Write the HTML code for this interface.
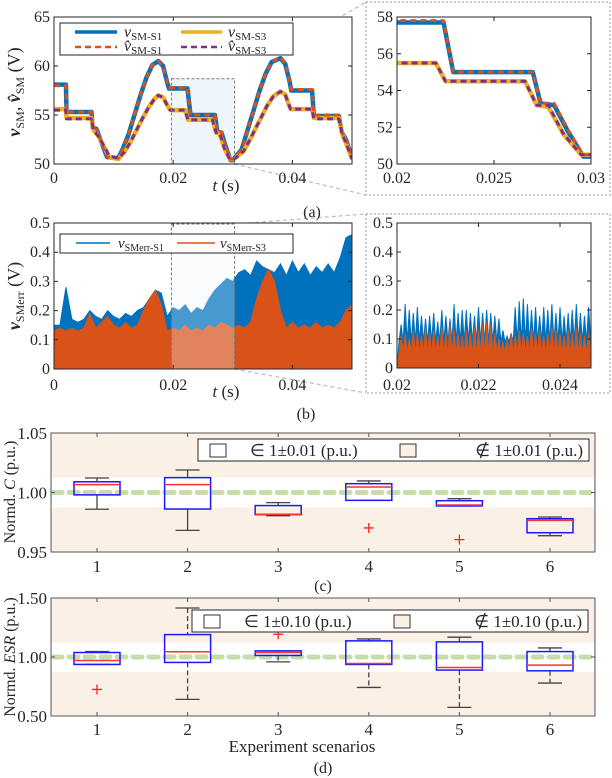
<!DOCTYPE html>
<html><head><meta charset="utf-8">
<style>
html,body{margin:0;padding:0;background:#fff;}
svg{display:block;font-family:"Liberation Serif",serif;}
svg text{fill:#262626;font-family:"Liberation Serif",serif;}
</style></head>
<body>
<svg id="fig" width="612" height="778" viewBox="0 0 612 778" xmlns="http://www.w3.org/2000/svg">
<defs>
<clipPath id="clipA"><rect x="54" y="17" width="298" height="147"/></clipPath>
<clipPath id="clipAR"><rect x="397" y="17" width="194" height="147"/></clipPath>
<clipPath id="clipB"><rect x="54" y="223" width="298" height="146"/></clipPath>
<clipPath id="clipBR"><rect x="397" y="223" width="194" height="145"/></clipPath>
</defs>
<g stroke="#bdbdbd" stroke-width="1.2" stroke-dasharray="4,3" fill="none">
<line x1="234" y1="79" x2="366" y2="2"/><line x1="234" y1="164" x2="366" y2="195"/>
<line x1="234" y1="224" x2="366" y2="214"/><line x1="234" y1="369" x2="366" y2="393"/>
</g>
<rect x="366" y="2" width="244" height="193" fill="#fff" stroke="#999" stroke-dasharray="2,2"/>
<rect x="366" y="214" width="244" height="179" fill="#fff" stroke="#999" stroke-dasharray="2,2"/>
<g id="layer"></g>
<text transform="translate(20,92) rotate(-90)" text-anchor="middle" font-size="18"><tspan font-style="italic" font-weight="bold">v</tspan><tspan font-size="12" dy="4">SM</tspan><tspan dy="-4">, </tspan><tspan font-style="italic" font-weight="bold">v̂</tspan><tspan font-size="12" dy="4">SM</tspan><tspan dy="-4"> (V)</tspan></text>
<text x="226" y="191" text-anchor="middle" font-size="17"><tspan font-style="italic">t</tspan> (s)</text>
<text x="312" y="217" text-anchor="middle" font-size="16">(a)</text>
<g>
<rect x="60" y="23" width="233" height="32" fill="#fff" stroke="#262626"/>
<line x1="75" y1="32" x2="117" y2="32" stroke="#0072bd" stroke-width="3.5"/>
<text x="124" y="37" font-size="16"><tspan font-style="italic">v</tspan><tspan font-size="11" dy="3">SM-S1</tspan></text>
<line x1="181" y1="32" x2="222" y2="32" stroke="#edb120" stroke-width="3.5"/>
<text x="228" y="37" font-size="16"><tspan font-style="italic">v</tspan><tspan font-size="11" dy="3">SM-S3</tspan></text>
<line x1="75" y1="47" x2="117" y2="47" stroke="#d95319" stroke-width="2.5" stroke-dasharray="6,4"/>
<text x="124" y="51" font-size="16"><tspan font-style="italic">v̂</tspan><tspan font-size="11" dy="3">SM-S1</tspan></text>
<line x1="181" y1="47" x2="222" y2="47" stroke="#7e2f8e" stroke-width="2.5" stroke-dasharray="6,4"/>
<text x="228" y="51" font-size="16"><tspan font-style="italic">v̂</tspan><tspan font-size="11" dy="3">SM-S3</tspan></text>
</g>
<text transform="translate(20,296) rotate(-90)" text-anchor="middle" font-size="18"><tspan font-style="italic" font-weight="bold">v</tspan><tspan font-size="12" dy="4">SMerr</tspan><tspan dy="-4"> (V)</tspan></text>
<text x="226" y="397" text-anchor="middle" font-size="17"><tspan font-style="italic">t</tspan> (s)</text>
<text x="306" y="419" text-anchor="middle" font-size="16">(b)</text>
<g>
<rect x="60" y="234" width="233" height="19" fill="#fff" stroke="#262626"/>
<line x1="76" y1="243" x2="110" y2="243" stroke="#0072bd" stroke-width="1.5"/>
<text x="118" y="248" font-size="15"><tspan font-style="italic">v</tspan><tspan font-size="10" dy="3">SMerr-S1</tspan></text>
<line x1="177" y1="243" x2="215" y2="243" stroke="#d95319" stroke-width="1.5"/>
<text x="220" y="248" font-size="15"><tspan font-style="italic">v</tspan><tspan font-size="10" dy="3">SMerr-S3</tspan></text>
</g>
<text transform="translate(15,492) rotate(-90)" text-anchor="middle" font-size="16">Normd. <tspan font-style="italic">C</tspan> (p.u.)</text>
<text x="323" y="591" text-anchor="middle" font-size="16">(c)</text>
<text transform="translate(15,657) rotate(-90)" text-anchor="middle" font-size="16">Normd. <tspan font-style="italic">ESR</tspan> (p.u.)</text>
<text x="302" y="752" text-anchor="middle" font-size="17">Experiment scenarios</text>
<text x="323" y="773" text-anchor="middle" font-size="16">(d)</text>
</svg>
<script>
const s1Times = [0,0.002,0.0021,0.0063,0.0065,0.0071,0.0089,0.0108,0.0115,0.0125,0.0135,0.0145,0.0155,0.0165,0.0175,0.0183,0.0190,0.0193,0.0224,0.0229,0.0270,0.0274,0.0281,0.0288,0.0296,0.0300,0.0315,0.0325,0.0335,0.0345,0.0355,0.0365,0.0380,0.0388,0.0395,0.0398,0.0433,0.0436,0.0478,0.0483,0.0490,0.0500];
const s1Values = [58.1,58.1,55.3,55.3,53.7,53.6,50.7,50.6,51.5,53.0,55.0,57.0,58.8,60.1,60.5,60.0,58.3,57.7,57.7,55.0,55.0,53.3,53.2,51.8,50.4,50.4,51.5,53.5,55.5,57.5,59.2,60.4,60.8,60.2,58.5,57.5,57.5,54.9,54.9,53.2,52.5,50.6];
const s1EstValues = [58.0,58.0,55.3,55.3,53.7,53.6,50.7,50.6,51.5,53.0,55.0,57.0,58.8,60.1,60.5,60.0,58.3,57.8,57.8,55.0,55.0,53.3,53.3,51.9,50.5,50.5,51.5,53.5,55.5,57.5,59.2,60.4,60.9,60.3,58.5,57.6,57.6,55.0,55.0,53.2,52.6,50.7];
const s3Times = [0,0.002,0.0021,0.0063,0.0066,0.0075,0.0093,0.0108,0.0118,0.0128,0.0138,0.0148,0.0158,0.0168,0.0175,0.0183,0.0190,0.0195,0.0220,0.0225,0.0266,0.0272,0.0278,0.0286,0.0295,0.0302,0.0318,0.0328,0.0338,0.0348,0.0358,0.0368,0.0380,0.0388,0.0393,0.0397,0.0433,0.0436,0.0478,0.0484,0.0491,0.0500];
const s3Values = [55.6,55.6,54.7,54.7,53.5,52.8,50.7,50.5,51.2,52.2,53.4,54.6,55.7,56.6,57.0,56.8,56.0,55.5,55.5,54.5,54.5,53.2,53.1,51.6,50.5,50.5,51.3,52.4,53.6,54.8,56.0,56.9,57.4,57.1,56.2,55.6,55.6,54.7,54.7,53.0,52.0,50.5];
const s3EstValues = [55.5,55.5,54.6,54.6,53.5,52.8,50.8,50.6,51.2,52.2,53.4,54.6,55.7,56.6,57.0,56.8,56.0,55.5,55.5,54.5,54.5,53.2,53.2,51.6,50.5,50.5,51.3,52.4,53.6,54.8,56.0,56.9,57.4,57.1,56.2,55.6,55.6,54.6,54.6,53.0,52.0,50.5];
const aYTicks = [50,55,60,65];
const aXTicks = [0,0.02,0.04];
const aXTickLabels = ['0','0.02','0.04'];
const arYTicks = [50,52,54,56,58];
const arXTicks = [0.02,0.025,0.03];
const arXTickLabels = ['0.02','0.025','0.03'];
const errTimes = [0,0.001,0.002,0.003,0.004,0.005,0.006,0.007,0.008,0.009,0.010,0.011,0.012,0.013,0.014,0.015,0.016,0.017,0.018,0.019,0.020,0.021,0.022,0.023,0.024,0.025,0.026,0.027,0.028,0.029,0.030,0.031,0.032,0.033,0.034,0.035,0.036,0.037,0.038,0.039,0.040,0.041,0.042,0.043,0.044,0.045,0.046,0.047,0.048,0.049,0.050];
const errS1Env = [0.15,0.15,0.28,0.17,0.16,0.17,0.20,0.18,0.17,0.20,0.18,0.17,0.19,0.18,0.20,0.21,0.24,0.27,0.26,0.18,0.21,0.20,0.22,0.19,0.21,0.20,0.24,0.27,0.29,0.31,0.30,0.33,0.34,0.32,0.37,0.35,0.34,0.33,0.36,0.32,0.37,0.33,0.36,0.32,0.35,0.33,0.36,0.33,0.38,0.45,0.46];
const errS3Env = [0.13,0.14,0.13,0.14,0.13,0.14,0.19,0.14,0.16,0.18,0.15,0.14,0.16,0.14,0.15,0.20,0.24,0.27,0.22,0.13,0.14,0.13,0.15,0.13,0.14,0.13,0.15,0.14,0.16,0.15,0.14,0.15,0.14,0.16,0.24,0.30,0.34,0.30,0.20,0.14,0.16,0.14,0.15,0.14,0.16,0.14,0.15,0.14,0.16,0.20,0.22];
const zoomTimes = [0.0201,0.0202,0.0203,0.0204,0.0205,0.0206,0.0207,0.0208,0.0209,0.0210,0.0211,0.0212,0.0213,0.0214,0.0215,0.0216,0.0217,0.0218,0.0219,0.0220,0.0221,0.0222,0.0223,0.0224,0.0225,0.0226,0.0227,0.0228,0.0229,0.0230,0.0231,0.0232,0.0233,0.0234,0.0235,0.0236,0.0237,0.0238,0.0239,0.0240,0.0241,0.0242,0.0243,0.0244,0.0245,0.0246,0.0247];
const zoomS1Peaks = [0.15,0.22,0.20,0.19,0.21,0.18,0.17,0.18,0.19,0.16,0.20,0.18,0.17,0.22,0.19,0.20,0.20,0.19,0.18,0.21,0.19,0.20,0.19,0.18,0.17,0.13,0.11,0.12,0.21,0.23,0.24,0.22,0.20,0.21,0.18,0.21,0.20,0.22,0.19,0.21,0.18,0.19,0.20,0.22,0.19,0.18,0.21];
const zoomS3Peaks = [0.11,0.12,0.10,0.13,0.12,0.11,0.14,0.12,0.13,0.11,0.14,0.12,0.15,0.13,0.12,0.11,0.13,0.12,0.14,0.13,0.15,0.16,0.15,0.12,0.10,0.09,0.10,0.12,0.11,0.13,0.12,0.11,0.14,0.12,0.13,0.11,0.12,0.14,0.13,0.12,0.11,0.13,0.12,0.14,0.12,0.11,0.12];
const bYTicks = [0,0.1,0.2,0.3,0.4,0.5];
const bYTickLabels = ['0','0.1','0.2','0.3','0.4','0.5'];
const brXTicks = [0.02,0.022,0.024];
const brXTickLabels = ['0.02','0.022','0.024'];
const scenarios = [1,2,3,4,5,6];
const cWhiskHi = [1.0122,1.0189,0.9915,1.0097,0.9948,0.9794];
const cQ3 = [1.0090,1.0125,0.9890,1.0074,0.9931,0.9780];
const cMedian = [1.0066,1.0066,0.9817,1.0046,0.9895,0.9766];
const cQ1 = [0.9980,0.9861,0.9814,0.9934,0.9887,0.9662];
const cWhiskLo = [0.9859,0.9682,0.9805,0.9934,0.9887,0.9637];
const cOutlierCats = [4,5];
const cOutlierVals = [0.9702,0.9604];
const cYTicks = [0.95,1.00,1.05];
const cYTickLabels = ['0.95','1.00','1.05'];
const cBand = [0.9874,1.0126];
const dWhiskHi = [1.046,1.415,1.052,1.153,1.168,1.077];
const dQ3 = [1.038,1.190,1.052,1.137,1.128,1.046];
const dMedian = [0.970,1.044,1.038,0.945,0.911,0.931];
const dQ1 = [0.937,0.954,1.013,0.937,0.889,0.883];
const dWhiskLo = [0.937,0.641,0.959,0.742,0.573,0.779];
const dOutlierCats = [1,3];
const dOutlierVals = [0.725,1.193];
const dYTicks = [0.50,1.00,1.50];
const dYTickLabels = ['0.50','1.00','1.50'];
const dBand = [0.875,1.12];

const NS = 'http://www.w3.org/2000/svg';
const layer = document.getElementById('layer');
function mk(tag, attrs, parent) {
  const e = document.createElementNS(NS, tag);
  for (const k in attrs) e.setAttribute(k, attrs[k]);
  (parent || layer).appendChild(e);
  return e;
}
function lin(d0, d1, r0, r1) { return v => r0 + (v - d0) / (d1 - d0) * (r1 - r0); }
function poly(xs, ys, fx, fy) { return xs.map((t, i) => fx(t).toFixed(2) + ',' + fy(ys[i]).toFixed(2)).join(' '); }

function frame(name, x0, y0, x1, y1, xt, xl, yt, yl, fx, fy, fs, xlabY) {
  const g = mk('g', {});
  
  
  const r = mk('rect', {x: x0, y: y0, width: x1 - x0, height: y1 - y0, fill: 'none', stroke: '#262626', 'stroke-width': 1}, g);
  
  
  xt.forEach((v, i) => {
    const X = fx(v);
    const tk = mk('path', {d: `M${X},${y1}v-4M${X},${y0}v4`, stroke: '#262626', 'stroke-width': 1}, g);
    
    
    const tx = mk('text', {x: X, y: xlabY, 'text-anchor': 'middle', 'font-size': fs}, g);
    tx.textContent = xl[i];
    
    
  });
  yt.forEach((v, i) => {
    const Y = fy(v);
    const tk = mk('path', {d: `M${x0},${Y}h4M${x1},${Y}h-4`, stroke: '#262626', 'stroke-width': 1}, g);
    
    
    const tx = mk('text', {x: x0 - 4, y: Y + 5, 'text-anchor': 'end', 'font-size': fs}, g);
    tx.textContent = yl[i];
    
    
  });
}

const axA = lin(0, 0.05, 54, 352), ayA = lin(50, 65, 164, 17);
let bg = mk('rect', {x: 54, y: 17, width: 298, height: 147, fill: '#fff'});


let hl = mk('rect', {x: axA(0.0197), y: ayA(58.7), width: axA(0.0303) - axA(0.0197), height: ayA(50) - ayA(58.7), fill: '#eef6fb'});


function waveSet(fx, fy, clip, prefix) {
  const g = mk('g', {'clip-path': 'url(#' + clip + ')', fill: 'none', 'stroke-linejoin': 'round'});
  
  
  const l1 = mk('polyline', {points: poly(s1Times, s1Values, fx, fy), stroke: '#0072bd', 'stroke-width': 4.5}, g);
  
  
  const l3 = mk('polyline', {points: poly(s3Times, s3Values, fx, fy), stroke: '#edb120', 'stroke-width': 4.5}, g);
  
  
  const e1 = mk('polyline', {points: poly(s1Times, s1EstValues, fx, fy), stroke: '#d95319', 'stroke-width': 3, 'stroke-dasharray': '6,4'}, g);
  
  
  const e3 = mk('polyline', {points: poly(s3Times, s3EstValues, fx, fy), stroke: '#7e2f8e', 'stroke-width': 3, 'stroke-dasharray': '6,4'}, g);
  
  
}
waveSet(axA, ayA, 'clipA', 'panel-a');
let hb = mk('rect', {x: axA(0.0197), y: ayA(58.7), width: axA(0.0303) - axA(0.0197), height: ayA(50) - ayA(58.7), fill: 'none', stroke: '#777', 'stroke-dasharray': '3,2'});


frame('panel-a', 54, 17, 352, 164, aXTicks, aXTickLabels, aYTicks, aYTicks.map(String), axA, ayA, 16, 183);

const axAR = lin(0.02, 0.03, 397, 591), ayAR = lin(50, 58, 164, 17);
waveSet(axAR, ayAR, 'clipAR', 'panel-a-zoom');
frame('panel-a-zoom', 397, 17, 591, 164, arXTicks, arXTickLabels, arYTicks, arYTicks.map(String), axAR, ayAR, 16, 183);

const axB = lin(0, 0.05, 54, 352), ayB = lin(0, 0.5, 369, 223);
bg = mk('rect', {x: 54, y: 223, width: 298, height: 146, fill: '#fff'});


function envPoints(ts, vs, fx, fy, y0) {
  return fx(ts[0]) + ',' + y0 + ' ' + poly(ts, vs, fx, fy) + ' ' + fx(ts[ts.length - 1]) + ',' + y0;
}
const gb = mk('g', {'clip-path': 'url(#clipB)'});


const a1 = mk('polygon', {points: envPoints(errTimes, errS1Env, axB, ayB, 369), fill: '#0072bd', stroke: '#0072bd', 'stroke-width': 1}, gb);


const a3 = mk('polygon', {points: envPoints(errTimes, errS3Env, axB, ayB, 369), fill: '#d95319', stroke: '#d95319', 'stroke-width': 1}, gb);


hl = mk('rect', {x: axB(0.0197), y: 224, width: axB(0.0303) - axB(0.0197), height: 145, fill: '#eef6fb', 'fill-opacity': 0.3, stroke: '#777', 'stroke-dasharray': '3,2'});


frame('panel-b', 54, 223, 352, 369, aXTicks, aXTickLabels, bYTicks, bYTickLabels, axB, ayB, 16, 390);

const axBR = lin(0.02, 0.02476, 397, 591), ayBR = lin(0, 0.5, 368, 223);
const gbr = mk('g', {'clip-path': 'url(#clipBR)'});


function zig(ts, peaks, trough) {
  let pts = axBR(0.02) + ',368 ';
  ts.forEach((t, i) => {
    pts += axBR(t - 0.00005).toFixed(2) + ',' + ayBR(trough).toFixed(2) + ' ' + axBR(t).toFixed(2) + ',' + ayBR(peaks[i]).toFixed(2) + ' ';
  });
  pts += axBR(0.0248) + ',368';
  return pts;
}
const z1 = mk('polygon', {points: zig(zoomTimes, zoomS1Peaks, 0.09), fill: '#0072bd', stroke: '#0072bd', 'stroke-width': 1}, gbr);


const z3 = mk('polygon', {points: zig(zoomTimes, zoomS3Peaks, 0.05), fill: '#d95319', stroke: '#d95319', 'stroke-width': 1}, gbr);


frame('panel-b-zoom', 397, 223, 591, 368, brXTicks, brXTickLabels, bYTicks, bYTickLabels, axBR, ayBR, 16, 390);

const cx = c => 97 + (c - 1) * 90.6;
function boxPanel(name, y0, y1, fy, band, hi, q3, med, q1, lo, oc, ov, yt, yl, dashed, labY) {
  const b = mk('rect', {x: 51, y: y0, width: 544, height: y1 - y0, fill: '#fbf0e6'});
  
  
  const w = mk('rect', {x: 52, y: fy(band[1]), width: 542, height: fy(band[0]) - fy(band[1]), fill: '#fff'});
  
  
  const ref = mk('line', {x1: 53, x2: 594, y1: fy(1), y2: fy(1), stroke: '#c8dba8', 'stroke-width': 5, 'stroke-dasharray': '9,7', 'stroke-linecap': 'round'});
  
  
  scenarios.forEach((c, i) => {
    const X = cx(c);
    const g = mk('g', {});
    
    
    const da = dashed ? '5,3' : 'none';
    mk('line', {x1: X, x2: X, y1: fy(hi[i]), y2: fy(q3[i]), stroke: '#444', 'stroke-width': 1.3, 'stroke-dasharray': da}, g);
    mk('line', {x1: X, x2: X, y1: fy(q1[i]), y2: fy(lo[i]), stroke: '#444', 'stroke-width': 1.3, 'stroke-dasharray': da}, g);
    mk('line', {x1: X - 12, x2: X + 12, y1: fy(hi[i]), y2: fy(hi[i]), stroke: '#444', 'stroke-width': 1.3}, g);
    mk('line', {x1: X - 12, x2: X + 12, y1: fy(lo[i]), y2: fy(lo[i]), stroke: '#444', 'stroke-width': 1.3}, g);
    mk('rect', {x: X - 23, y: fy(q3[i]), width: 46, height: Math.max(1, fy(q1[i]) - fy(q3[i])), fill: 'none', stroke: '#1a1aff', 'stroke-width': 1.5}, g);
    mk('line', {x1: X - 23, x2: X + 23, y1: fy(med[i]), y2: fy(med[i]), stroke: '#ff3030', 'stroke-width': 1.5}, g);
  });
  oc.forEach((c, i) => {
    const X = cx(c), Y = fy(ov[i]);
    const o = mk('path', {d: `M${X - 5},${Y}h10M${X},${Y - 5}v10`, stroke: '#ff2020', 'stroke-width': 1.3});
    
    
  });
  const g = mk('g', {});
  
  
  mk('rect', {x: 51, y: y0, width: 544, height: y1 - y0, fill: 'none', stroke: '#555', 'stroke-width': 1}, g);
  scenarios.forEach(c => {
    const X = cx(c);
    mk('path', {d: `M${X},${y1}v-4M${X},${y0}v4`, stroke: '#555'}, g);
    const t = mk('text', {x: X, y: labY, 'text-anchor': 'middle', 'font-size': 17}, g);
    t.textContent = String(c);
    
    
  });
  yt.forEach((v, i) => {
    const Y = fy(v);
    mk('path', {d: `M51,${Y}h4M595,${Y}h-4`, stroke: '#555'}, g);
    const t = mk('text', {x: 47, y: Y + 6, 'text-anchor': 'end', 'font-size': 17}, g);
    t.textContent = yl[i];
    
    
  });
}
boxPanel('panel-c', 433, 552, lin(0.95, 1.05, 552, 433), cBand, cWhiskHi, cQ3, cMedian, cQ1, cWhiskLo, cOutlierCats, cOutlierVals, cYTicks, cYTickLabels, false, 572);
boxPanel('panel-d', 598, 716, lin(0.5, 1.5, 716, 598), dBand, dWhiskHi, dQ3, dMedian, dQ1, dWhiskLo, dOutlierCats, dOutlierVals, dYTicks, dYTickLabels, true, 735);

function legendBox(name, x0, y0, x1, y1, tol) {
  const g = mk('g', {});
  
  
  mk('rect', {x: x0, y: y0, width: x1 - x0, height: y1 - y0, fill: '#fff', stroke: '#262626'}, g);
  const cy = (y0 + y1) / 2;
  mk('rect', {x: x0 + 12, y: cy - 6, width: 16, height: 13, fill: '#fff', stroke: '#333'}, g);
  const t1 = mk('text', {x: x0 + 52, y: cy + 6, 'font-size': 17}, g);
  t1.textContent = '∈ 1±' + tol + ' (p.u.)';
  mk('rect', {x: x0 + 202, y: cy - 6, width: 16, height: 13, fill: '#fbf0e6', stroke: '#333'}, g);
  const t2 = mk('text', {x: x1 - 6, y: cy + 6, 'font-size': 17, 'text-anchor': 'end'}, g);
  t2.textContent = '∉ 1±' + tol + ' (p.u.)';
}
legendBox('legend-c', 198, 439, 589, 461, '0.01');
legendBox('legend-d', 192, 610, 588, 632, '0.10');
</script>
</body></html>
